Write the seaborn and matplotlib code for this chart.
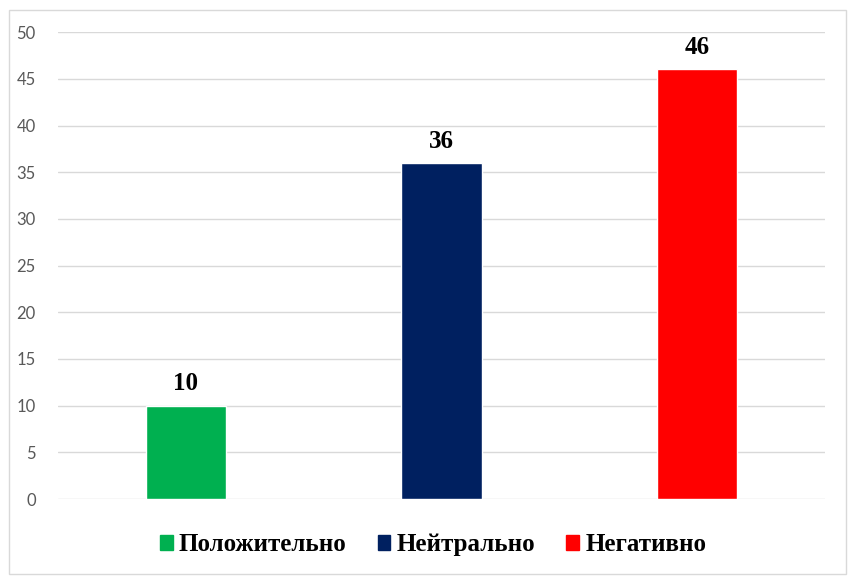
import pandas as pd
import matplotlib.pyplot as plt
import seaborn as sns
from matplotlib.patches import Rectangle

categories = ['Положительно', 'Нейтрально', 'Негативно']
values = [10, 36, 46]
colors = ['#00B050', '#002060', '#FF0000']

df = pd.DataFrame({'cat': categories, 'val': values})

sns.set_style('white')
fig = plt.figure(figsize=(8.56, 5.84), dpi=100)
ax = fig.add_axes([0.0678, 0.1455, 0.8960, 0.7995])

sns.barplot(data=df, x='cat', y='val', hue='cat', palette=colors,
            width=0.314, dodge=False, legend=False, ax=ax, saturation=1)

ax.set_ylim(0, 50)
ax.set_xlim(-0.5, 2.5)
ax.set_yticks(range(0, 51, 5))
ax.yaxis.grid(True, color='#d9d9d9', linewidth=1)
ax.set_axisbelow(True)
for s in ax.spines.values():
    s.set_visible(False)
ax.tick_params(axis='y', length=0, labelsize=12, labelcolor='#595959', pad=16)
for lbl in ax.get_yticklabels():
    lbl.set_fontfamily('Lato')
ax.set_xticks([])
ax.set_xlabel('')
ax.set_ylabel('')

# value labels above bars
for i, v in enumerate(values):
    ax.text(i, v + 1.1, str(v), ha='center', va='bottom', fontsize=18,
            fontweight='bold', family='Liberation Serif', color='black')

handles = [Rectangle((0, 0), 1, 1, color=c) for c in colors]
leg = fig.legend(handles, categories, loc='center', bbox_to_anchor=(0.506, 0.067),
                 ncol=3, frameon=False, handlelength=0.5, handleheight=0.5,
                 handletextpad=0.25, columnspacing=1.25,
                 prop={'family': 'Liberation Serif', 'weight': 'bold', 'size': 18})
for t in leg.get_texts():
    t.set_color('black')

fig.patches.append(Rectangle((9 / 856, 10 / 584), 837 / 856, 564 / 584,
                             transform=fig.transFigure, fill=False,
                             edgecolor='#d9d9d9', linewidth=1))

fig.savefig('out.png', dpi=100)
